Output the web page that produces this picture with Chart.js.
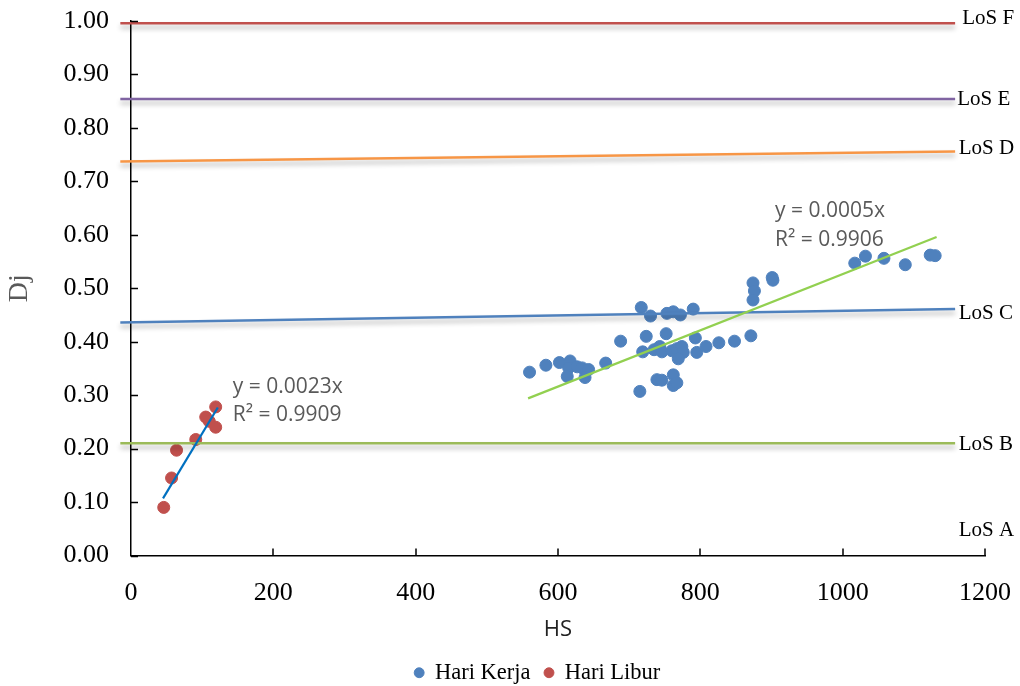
<!DOCTYPE html>
<html>
<head>
<meta charset="utf-8">
<script src="https://cdn.jsdelivr.net/npm/chart.js@4"></script>
<style>
  html, body { margin: 0; padding: 0; background: #fff; }
  #wrap { width: 1020px; height: 686px; }
</style>
</head>
<body>
<div id="wrap"><canvas id="chart"></canvas></div>
<script>
// Hari Kerja (weekday) points
const kerjaHS = [560, 583, 602, 617, 615, 627, 634, 643, 613, 638, 667, 688, 717, 730, 753, 762, 772, 790,
  724, 752, 719, 735, 743, 746, 760, 767, 774, 776, 769, 793, 795, 808, 826, 848, 871,
  739, 746, 762, 762, 767, 715, 874, 876, 874, 901, 902, 1017, 1032, 1058, 1088, 1123, 1130];
const kerjaDj = [0.343, 0.356, 0.361, 0.364, 0.351, 0.353, 0.351, 0.348, 0.335, 0.333, 0.360, 0.401, 0.464, 0.448, 0.453, 0.456, 0.450, 0.461,
  0.410, 0.415, 0.381, 0.385, 0.391, 0.381, 0.383, 0.387, 0.391, 0.380, 0.368, 0.407, 0.380, 0.391, 0.398, 0.401, 0.411,
  0.329, 0.328, 0.338, 0.318, 0.323, 0.307, 0.510, 0.495, 0.478, 0.520, 0.515, 0.547, 0.560, 0.556, 0.544, 0.562, 0.561];

// Hari Libur (holiday) points
const liburHS = [46, 57, 64, 91, 105, 110, 119, 119];
const liburDj = [0.090, 0.145, 0.197, 0.217, 0.259, 0.251, 0.278, 0.240];

// trend lines (ends)
const kerjaTrendHS = [558, 1132];
const kerjaTrendDj = [0.294, 0.596];
const liburTrendHS = [45, 122];
const liburTrendDj = [0.107, 0.277];

// LoS limit lines: start / end value
const losNames = ['LoS F', 'LoS E', 'LoS D', 'LoS C', 'LoS B'];
const losStart = [0.996, 0.854, 0.737, 0.436, 0.210];
const losEnd = [0.996, 0.854, 0.756, 0.461, 0.210];
const losHS = [-15, 1158];
const losColors = ['#C0504D', '#8064A2', '#F79646', '#4F81BD', '#9BBB59'];

const xTicks = [0, 200, 400, 600, 800, 1000, 1200];
const yTicks = [0, 0.1, 0.2, 0.3, 0.4, 0.5, 0.6, 0.7, 0.8, 0.9, 1.0];

const eqKerja = ['y = 0.0005x', 'R\u00b2 = 0.9906'];
const eqLibur = ['y = 0.0023x', 'R\u00b2 = 0.9909'];

function pts(xs, ys) {
    return xs.map((x, i) => ({ x: x, y: ys[i] }));
}

const SERIF = '"Liberation Serif", "Times New Roman", serif';
const SANS = '"Open Sans", "Liberation Sans", sans-serif';

const datasets = [
    {
        label: 'Hari Kerja', data: pts(kerjaHS, kerjaDj),
        backgroundColor: '#4F81BD', borderColor: '#4F81BD',
        pointRadius: 6, pointHoverRadius: 6, showLine: false, order: 2
    },
    {
        label: 'Hari Libur', data: pts(liburHS, liburDj),
        backgroundColor: '#C0504D', borderColor: '#C0504D',
        pointRadius: 6, pointHoverRadius: 6, showLine: false, order: 2
    },
    {
        label: 'trend kerja', data: pts(kerjaTrendHS, kerjaTrendDj),
        borderColor: '#92D050', borderWidth: 2.2, showLine: true, pointRadius: 0, order: 1
    },
    {
        label: 'trend libur', data: pts(liburTrendHS, liburTrendDj),
        borderColor: '#0070C0', borderWidth: 2.2, showLine: true, pointRadius: 0, order: 1
    }
];

losNames.forEach((name, i) => {
    datasets.push({
        label: name, data: pts(losHS, [losStart[i], losEnd[i]]),
        borderColor: losColors[i], borderWidth: 2.5, showLine: true, pointRadius: 0,
        clip: false, shadow: true, order: 1
    });
});

// shadow under LoS lines, inner ticks, text labels
const extras = {
    id: 'extras',
    afterLayout(chart) {
        // legend sits a bit right of centre in the original
        chart.legend.left += 45;
        chart.legend.right += 45;
    },
    beforeDatasetDraw(chart, args) {
        if (args.meta._dataset.shadow) {
            const ctx = chart.ctx;
            ctx.save();
            ctx.shadowColor = 'rgba(0,0,0,0.3)';
            ctx.shadowBlur = 5;
            ctx.shadowOffsetY = 4;
        }
    },
    afterDatasetDraw(chart, args) {
        if (args.meta._dataset.shadow) chart.ctx.restore();
    },
    afterDraw(chart) {
        const ctx = chart.ctx;
        const xs = chart.scales.x, ys = chart.scales.y;
        const area = chart.chartArea;
        ctx.save();
        ctx.strokeStyle = '#000';
        ctx.lineWidth = 1.5;
        ctx.beginPath();
        yTicks.forEach(v => {
            const py = Math.round(ys.getPixelForValue(v)) + 0.5;
            ctx.moveTo(area.left, py);
            ctx.lineTo(area.left + 7, py);
        });
        xTicks.forEach(v => {
            if (v === 0) return;
            const px = Math.round(xs.getPixelForValue(v));
            ctx.moveTo(px, area.bottom);
            ctx.lineTo(px, area.bottom - 7);
        });
        ctx.stroke();

        // LoS labels
        ctx.fillStyle = '#000';
        ctx.font = '21px ' + SERIF;
        ctx.textBaseline = 'middle';
        ctx.textAlign = 'left';
        const losLabelAt = [[1168, 1.004], [1161, 0.854], [1163, 0.762], [1163, 0.453], [1163, 0.208], [1163, 0.047]];
        losNames.concat(['LoS A']).forEach((name, i) => {
            ctx.fillText(name, xs.getPixelForValue(losLabelAt[i][0]), ys.getPixelForValue(losLabelAt[i][1]));
        });

        // regression equations
        ctx.fillStyle = '#595959';
        ctx.font = '21px ' + SANS;
        ctx.fillText(eqKerja[0], xs.getPixelForValue(905), ys.getPixelForValue(0.644));
        ctx.fillText(eqKerja[1], xs.getPixelForValue(905), ys.getPixelForValue(0.590));
        ctx.fillText(eqLibur[0], xs.getPixelForValue(143), ys.getPixelForValue(0.315));
        ctx.fillText(eqLibur[1], xs.getPixelForValue(143), ys.getPixelForValue(0.262));
        ctx.restore();
    }
};

new Chart(document.getElementById('chart'), {
    type: 'scatter',
    data: { datasets: datasets },
    options: {
        responsive: true,
        maintainAspectRatio: false,
        animation: false,
        layout: { padding: { top: 21, right: 35, bottom: -8, left: 0 } },
        plugins: {
            tooltip: { enabled: false },
            legend: {
                position: 'bottom',
                labels: {
                    filter: item => item.datasetIndex < 2,
                    usePointStyle: true,
                    pointStyle: 'circle',
                    boxWidth: 9,
                    boxHeight: 7,
                    padding: 14,
                    color: '#000',
                    font: { family: SERIF, size: 22.5 }
                }
            }
        },
        scales: {
            x: {
                type: 'linear', min: 0, max: 1200,
                afterFit: s => { s.height = 92; s.paddingLeft = 0; s.paddingRight = 0; },
                afterBuildTicks: s => { s.ticks = xTicks.map(v => ({ value: v })); },
                grid: { display: false, drawTicks: false },
                border: { display: true, color: '#000', width: 1.5 },
                ticks: { color: '#000', padding: 22, font: { family: SERIF, size: 26 }, callback: v => String(v) },
                title: { display: true, text: 'HS', color: '#222', padding: { top: 0, bottom: 5 }, font: { family: SANS, size: 22 } }
            },
            y: {
                type: 'linear', min: 0, max: 1,
                afterFit: s => { s.width = 131; s.paddingTop = 0; s.paddingBottom = 0; },
                afterBuildTicks: s => { s.ticks = yTicks.map(v => ({ value: v })); },
                grid: { display: false, drawTicks: false },
                border: { display: true, color: '#000', width: 1.5 },
                ticks: { color: '#000', padding: 22, font: { family: SERIF, size: 26 }, callback: v => v.toFixed(2) },
                title: { display: true, text: 'Dj', color: '#595959', padding: { top: 3, bottom: 3 }, font: { family: SERIF, size: 28 } }
            }
        }
    },
    plugins: [extras]
});
</script>
</body>
</html>
